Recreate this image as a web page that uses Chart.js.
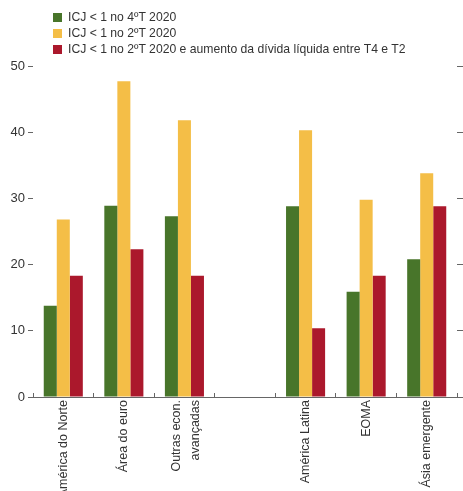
<!DOCTYPE html>
<html>
<head>
<meta charset="utf-8">
<script src="https://cdn.jsdelivr.net/npm/chart.js@4"></script>
<style>
  html, body { margin: 0; padding: 0; background: #fff; }
  #wrap { position: relative; width: 463px; height: 491px; overflow: hidden; }
  #legenda { position: absolute; left: 53px; top: 9px; font: 12.2px "Liberation Sans", sans-serif; color: #333; }
  #legenda div { height: 16px; line-height: 16px; white-space: nowrap; }
  #legenda span { display: inline-block; width: 9px; height: 9px; margin-right: 6px; vertical-align: -1px; }
</style>
</head>
<body>
<div id="wrap">
  <canvas id="icjChart" width="463" height="491"></canvas>
  <div id="legenda"></div>
</div>
<script>
// Categorias (a posição vazia separa avançadas de emergentes)
const categorias = ['América do Norte', 'Área do euro', ['Outras econ.', 'avançadas'], '', 'América Latina', 'EOMA', 'Ásia emergente'];

// Percentagem de empresas em cada grupo
const icj4T = [13.8, 28.9, 27.3, null, 28.8, 15.9, 20.8];
const icj2T = [26.8, 47.7, 41.8, null, 40.3, 29.8, 33.8];
const icj2TDivida = [18.3, 22.3, 18.3, null, 10.4, 18.3, 28.8];

const nomesSeries = ['ICJ < 1 no 4ºT 2020', 'ICJ < 1 no 2ºT 2020', 'ICJ < 1 no 2ºT 2020 e aumento da dívida líquida entre T4 e T2'];
const cores = ['#48752a', '#f4be47', '#ab182c'];
const ticksY = [0, 10, 20, 30, 40, 50];

const fonte = '"Liberation Sans", sans-serif';

// Legenda em coluna, no canto superior esquerdo
const legenda = document.getElementById('legenda');
nomesSeries.forEach(function (nome, i) {
    const linha = document.createElement('div');
    linha.innerHTML = '<span style="background:' + cores[i] + '"></span>' + nome;
    legenda.appendChild(linha);
});

// Linha do eixo horizontal um pouco mais comprida que a área do gráfico
const linhaEixo = {
    id: 'linhaEixo',
    beforeDraw: function (chart) {
        // rótulos com duas linhas ficam centrados na categoria
        chart.scales.x.getLabelItems().forEach(function (item) {
            if (Array.isArray(item.label) && !item.ajustado) {
                item.options.translation[0] -= 8;
                item.ajustado = true;
            }
        });
    },
    afterDraw: function (chart) {
        const c = chart.ctx;
        const y = chart.scales.y.getPixelForValue(0);
        c.save();
        c.strokeStyle = '#666';
        c.lineWidth = 1;
        c.beginPath();
        c.moveTo(chart.chartArea.left - 4, Math.round(y) + 0.5);
        c.lineTo(chart.chartArea.right + 6, Math.round(y) + 0.5);
        c.stroke();
        c.restore();
    }
};

const ctx = document.getElementById('icjChart').getContext('2d');
new Chart(ctx, {
    type: 'bar',
    data: {
        labels: categorias,
        datasets: [icj4T, icj2T, icj2TDivida].map(function (valores, i) {
            return {
                label: nomesSeries[i],
                data: valores,
                backgroundColor: cores[i],
                borderWidth: 0,
                categoryPercentage: 0.645,
                barPercentage: 1.0
            };
        })
    },
    plugins: [linhaEixo],
    options: {
        responsive: false,
        animation: false,
        layout: { padding: { top: 66, left: 0, right: 0, bottom: 0 } },
        plugins: {
            legend: { display: false },
            tooltip: { enabled: false }
        },
        scales: {
            x: {
                grid: { drawOnChartArea: false, drawTicks: true, tickLength: -4, color: '#666' },
                border: { display: false },
                ticks: {
                    autoSkip: false,
                    maxRotation: 90,
                    minRotation: 90,
                    padding: 7,
                    color: '#333',
                    font: { family: fonte, size: 12.5, lineHeight: 1.5 }
                },
                afterFit: function (scale) { scale.height = 94; }
            },
            y: {
                min: 0,
                max: 50,
                afterBuildTicks: function (scale) {
                    scale.ticks = ticksY.map(function (v) { return { value: v }; });
                },
                grid: { drawOnChartArea: false, drawTicks: true, tickLength: 5, color: '#666' },
                border: { display: false },
                ticks: {
                    padding: 3,
                    color: '#333',
                    font: { family: fonte, size: 13 }
                },
                afterFit: function (scale) { scale.width = 33; }
            },
            y2: {
                position: 'right',
                min: 0,
                max: 50,
                afterBuildTicks: function (scale) {
                    scale.ticks = ticksY.map(function (v) { return { value: v }; });
                },
                grid: { drawOnChartArea: false, drawTicks: true, tickLength: 6, color: '#666' },
                border: { display: false },
                ticks: { display: false },
                afterFit: function (scale) { scale.width = 6; }
            }
        }
    }
});
</script>
</body>
</html>
